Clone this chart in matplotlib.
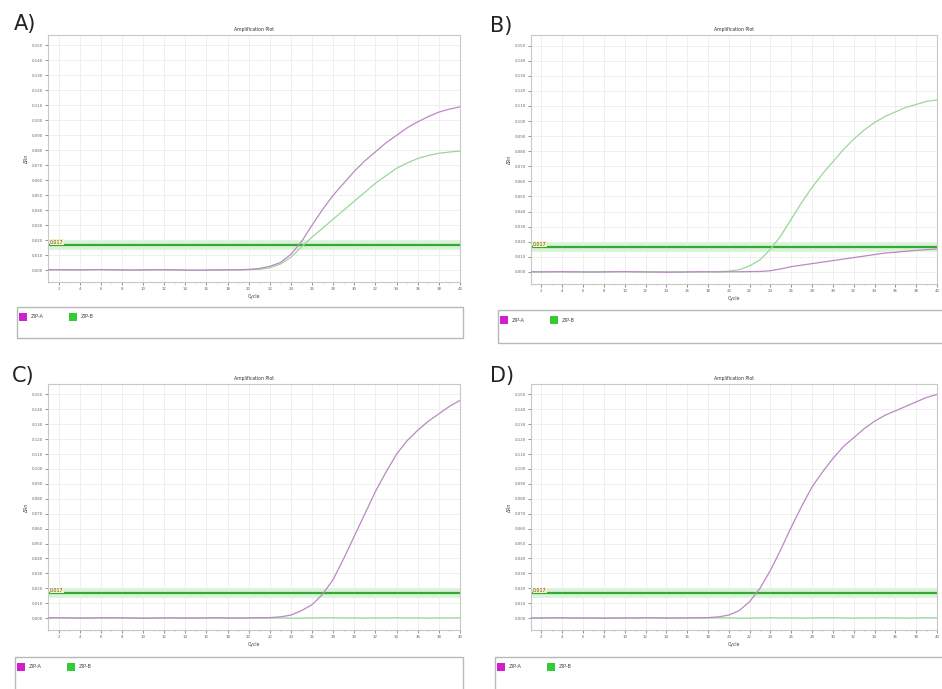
import matplotlib.pyplot as plt
from matplotlib.patches import Rectangle

# cycle numbers and delta Rn readings
cycles = list(range(1, 41))

a_zipa = [0.0003, 0.0002, 0.0002, 0.0001, 0.0002, 0.0003, 0.0002, 0.0001, 0.0000, 0.0001,
          0.0002, 0.0002, 0.0001, 0.0000, -0.0001, 0.0000, 0.0001, 0.0001, 0.0002, 0.0004,
          0.0010, 0.0025, 0.0050, 0.0105, 0.0190, 0.0300, 0.0405, 0.0500, 0.0580, 0.0660,
          0.0730, 0.0790, 0.0850, 0.0900, 0.0950, 0.0990, 0.1025, 0.1055, 0.1075, 0.1090]
a_zipb = [0.0001, 0.0001, 0.0000, 0.0001, 0.0002, 0.0002, 0.0001, 0.0000, -0.0001, 0.0000,
          0.0001, 0.0001, 0.0000, -0.0002, -0.0002, -0.0001, 0.0000, 0.0001, 0.0001, 0.0002,
          0.0005, 0.0015, 0.0040, 0.0085, 0.0155, 0.0220, 0.0280, 0.0340, 0.0400, 0.0460,
          0.0520, 0.0580, 0.0630, 0.0680, 0.0715, 0.0745, 0.0765, 0.0780, 0.0788, 0.0795]

b_zipa = [0.0001, 0.0000, 0.0001, 0.0002, 0.0001, 0.0000, -0.0001, 0.0000, 0.0001, 0.0002,
          0.0001, 0.0000, -0.0001, -0.0002, -0.0001, 0.0000, 0.0001, 0.0001, 0.0000, 0.0001,
          0.0001, 0.0002, 0.0003, 0.0008, 0.0020, 0.0035, 0.0045, 0.0055, 0.0065, 0.0075,
          0.0085, 0.0095, 0.0105, 0.0115, 0.0125, 0.0130, 0.0137, 0.0143, 0.0148, 0.0152]
b_zipb = [0.0000, 0.0001, 0.0001, 0.0000, -0.0001, 0.0000, 0.0001, 0.0001, 0.0002, 0.0001,
          0.0000, 0.0000, 0.0001, 0.0001, 0.0000, -0.0001, 0.0000, 0.0001, 0.0002, 0.0005,
          0.0015, 0.0040, 0.0080, 0.0150, 0.0240, 0.0350, 0.0460, 0.0560, 0.0650, 0.0730,
          0.0810, 0.0880, 0.0940, 0.0990, 0.1030, 0.1060, 0.1090, 0.1110, 0.1130, 0.1140]

c_zipa = [0.0001, 0.0002, 0.0001, 0.0000, 0.0001, 0.0002, 0.0002, 0.0001, 0.0000, -0.0001,
          0.0000, 0.0001, 0.0001, 0.0000, 0.0000, 0.0001, 0.0002, 0.0001, 0.0000, 0.0001,
          0.0002, 0.0003, 0.0008, 0.0020, 0.0050, 0.0090, 0.0160, 0.0260, 0.0400, 0.0550,
          0.0700, 0.0850, 0.0980, 0.1100, 0.1190, 0.1260, 0.1320, 0.1370, 0.1420, 0.1460]
c_zipb = [0.0002, 0.0002, 0.0001, 0.0001, 0.0000, 0.0001, 0.0001, 0.0002, 0.0001, 0.0000,
          0.0000, 0.0001, 0.0001, 0.0002, 0.0002, 0.0001, 0.0000, 0.0000, 0.0001, 0.0001,
          0.0002, 0.0001, 0.0001, 0.0000, 0.0000, 0.0001, 0.0002, 0.0002, 0.0001, 0.0001,
          0.0000, 0.0001, 0.0001, 0.0002, 0.0001, 0.0001, 0.0000, 0.0001, 0.0001, 0.0002]

d_zipa = [0.0001, 0.0000, 0.0001, 0.0002, 0.0001, 0.0001, 0.0000, -0.0001, 0.0000, 0.0001,
          0.0001, 0.0002, 0.0001, 0.0000, 0.0001, 0.0001, 0.0002, 0.0003, 0.0008, 0.0020,
          0.0050, 0.0110, 0.0200, 0.0320, 0.0460, 0.0610, 0.0750, 0.0880, 0.0980, 0.1070,
          0.1150, 0.1210, 0.1270, 0.1320, 0.1360, 0.1390, 0.1420, 0.1450, 0.1480, 0.1500]
d_zipb = [0.0001, 0.0002, 0.0002, 0.0001, 0.0000, 0.0000, 0.0001, 0.0002, 0.0001, 0.0001,
          0.0000, 0.0001, 0.0002, 0.0002, 0.0001, 0.0000, 0.0001, 0.0001, 0.0002, 0.0001,
          0.0000, 0.0000, 0.0001, 0.0002, 0.0001, 0.0001, 0.0000, 0.0001, 0.0002, 0.0002,
          0.0001, 0.0000, 0.0001, 0.0001, 0.0002, 0.0001, 0.0000, 0.0001, 0.0002, 0.0001]

threshold = 0.0165
y_ticks = [i / 100 for i in range(16)]
x_ticks = list(range(2, 41, 2))
series_names = ["ZIP-A", "ZIP-B"]

line_colors = ["#bb88c4", "#98d898"]
box_colors = ["#cc22cc", "#33cc33"]

W, H = 942, 689
fig = plt.figure(figsize=(W / 100, H / 100), dpi=100)


def px(x0, y0, x1, y1):
    # pixel box -> figure rect
    return [x0 / W, 1 - y1 / H, (x1 - x0) / W, (y1 - y0) / H]


def panel(rect, zipa, zipb, letter, letter_xy, legend_box):
    ax = fig.add_axes(px(*rect))
    ax.set_xlim(1, 40)
    ax.set_ylim(-0.008, 0.157)
    ax.set_xticks(x_ticks)
    ax.set_xticks(cycles, minor=True)
    ax.set_yticks(y_ticks)
    ax.set_yticklabels([f"{v:.3f}" for v in y_ticks])
    ax.tick_params(labelsize=2.8, colors="#666666", length=2, width=0.5, pad=1.5)
    ax.tick_params(which="minor", length=1, width=0.4, colors="#999999")
    ax.grid(True, color="#ededed", lw=0.6)
    for s in ax.spines.values():
        s.set_color("#c8c8c8")
        s.set_linewidth(0.8)

    # threshold with selection band
    ax.axhline(threshold, color="#d8f3d8", lw=7, zorder=1)
    ax.axhline(threshold, color="#33aa33", lw=1.6, zorder=2)
    ax.text(1.2, threshold + 0.0003, f"{threshold:.3f}", fontsize=3.4, color="#6a4a18",
            va="bottom", ha="left", zorder=4,
            bbox=dict(facecolor="#f6f2c8", edgecolor="none", pad=0.3))

    ax.plot(cycles, zipb, color=line_colors[1], lw=0.9, zorder=3)
    ax.plot(cycles, zipa, color=line_colors[0], lw=0.9, zorder=3)

    ax.set_title("Amplification Plot", fontsize=3.3, color="#333333", pad=3)
    ax.set_xlabel("Cycle", fontsize=3.3, color="#444444", labelpad=2)
    ax.set_ylabel("\u0394Rn", fontsize=3.3, color="#444444", labelpad=2)

    fig.text(letter_xy[0] / W, 1 - letter_xy[1] / H, letter, fontsize=15,
             color="#222222", ha="left", va="center")

    # legend box below the plot
    lx0, ly0, lx1, ly1 = legend_box
    fig.patches.append(Rectangle((lx0 / W, 1 - ly1 / H), (lx1 - lx0) / W, (ly1 - ly0) / H,
                                 transform=fig.transFigure, facecolor="white",
                                 edgecolor="#b8b8b8", lw=1.0))
    for k, name in enumerate(series_names):
        sx = lx0 + 2 + k * 50
        sy = ly0 + 6
        fig.patches.append(Rectangle((sx / W, 1 - (sy + 8) / H), 8 / W, 8 / H,
                                     transform=fig.transFigure, facecolor=box_colors[k],
                                     edgecolor="none"))
        fig.text((sx + 12) / W, 1 - (sy + 4) / H, name, fontsize=3.6,
                 color="#444444", va="center", ha="left")
    return ax


panel((48, 35, 460, 282), a_zipa, a_zipb, "A)", (14, 24), (17, 307, 463, 338))
panel((531, 35, 937, 284), b_zipa, b_zipb, "B)", (490, 26), (498, 310, 960, 343))
panel((48, 384, 460, 630), c_zipa, c_zipb, "C)", (12, 376), (15, 657, 463, 700))
panel((531, 384, 937, 630), d_zipa, d_zipb, "D)", (490, 376), (495, 657, 960, 700))

fig.savefig("out.png", dpi=100)
